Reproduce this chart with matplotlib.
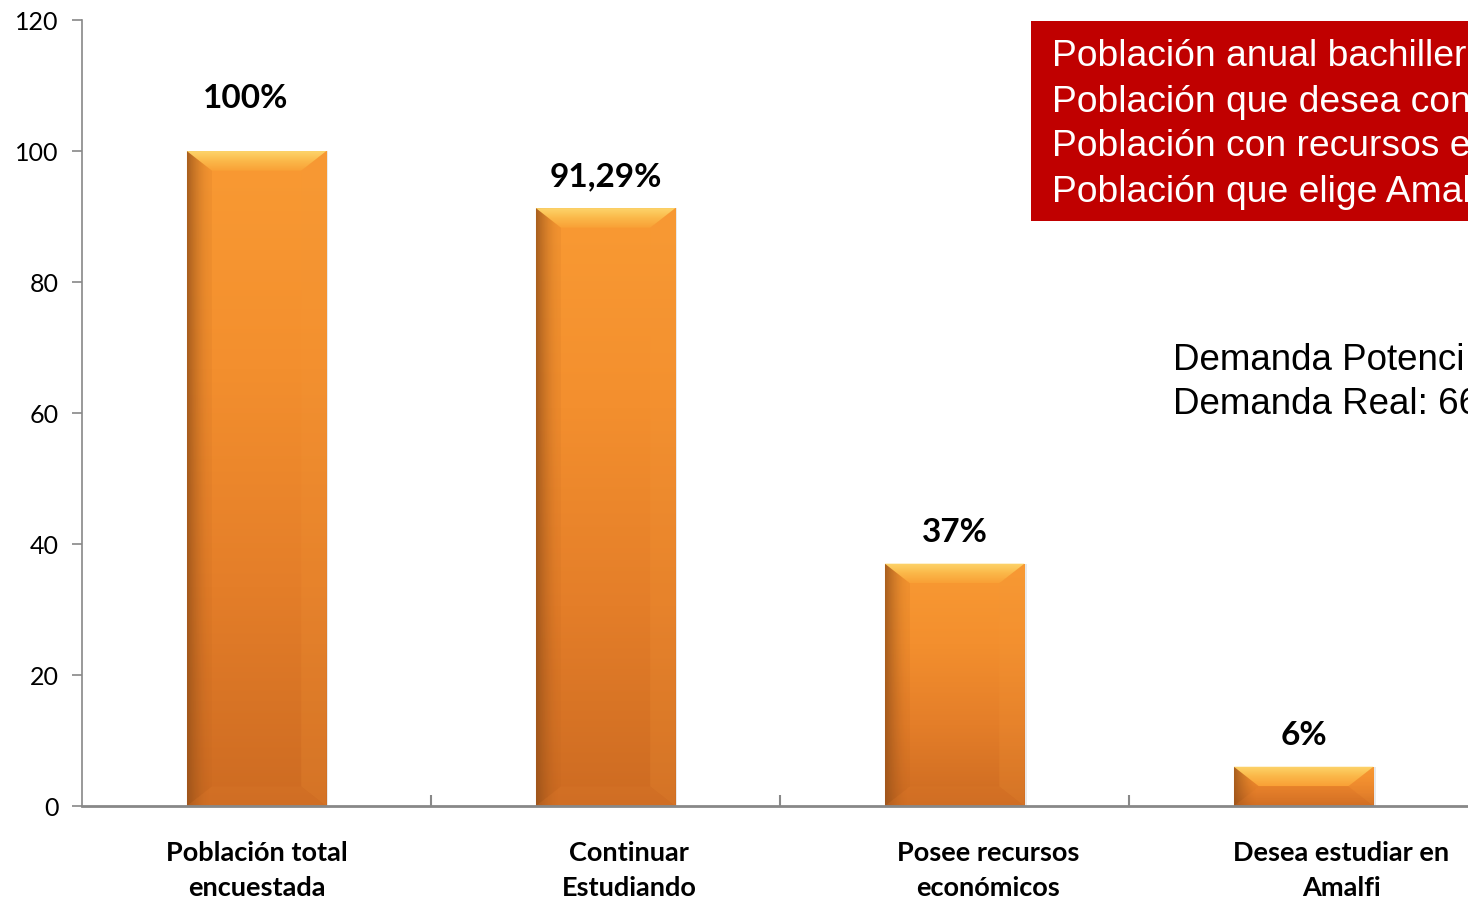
import numpy as np
import matplotlib.pyplot as plt
from matplotlib.colors import LinearSegmentedColormap
from matplotlib.patches import Polygon, Rectangle

# datos del grafico
categorias = ["Población total\nencuestada", "Continuar\nEstudiando",
              "Posee recursos\neconómicos", "Desea estudiar en\nAmalfi"]
valores = [100, 91.29, 37, 6]
etiquetas = ["100%", "91,29%", "37%", "6%"]
yticks = [0, 20, 40, 60, 80, 100, 120]

# textos cortados por el borde derecho, como en la imagen original
cuadro_lineas = ["Población anual bachillere",
                 "Población que desea con",
                 "Población con recursos e",
                 "Población que elige Amal"]
demanda_lineas = ["Demanda Potenci", "Demanda Real: 66"]

fig = plt.figure(figsize=(14.68, 8.98), dpi=100)
ax = fig.add_axes([0.0559, 0.1024, 0.951, 0.8753])

x = np.arange(len(valores))
bars = ax.bar(x, valores, width=0.4, color="#F08A2C", zorder=2)

cuerpo = LinearSegmentedColormap.from_list("cuerpo", ["#CD6B22", "#E47E29", "#F38F2E", "#F99A33"])
tapa = LinearSegmentedColormap.from_list("tapa", ["#F9A036", "#FBB849", "#FDD56B"])
grad = np.linspace(0, 1, 256).reshape(-1, 1)

# sombra lateral izquierda (gradiente horizontal)
n = 64
sombra = np.zeros((1, n, 4))
sombra[..., 0], sombra[..., 1], sombra[..., 2] = 0.55, 0.30, 0.10
sombra[0, :, 3] = np.clip(1 - np.linspace(0, 1, n), 0, 1) ** 1.6 * 0.75

# efecto bisel sobre cada barra
for b in bars:
    bx, bw, bh = b.get_x(), b.get_width(), b.get_height()
    dy = min(3.0, bh / 2)
    dx = 0.072 * dy / 3.0
    im = ax.imshow(grad, cmap=cuerpo, origin="lower", aspect="auto",
                   extent=[bx, bx + bw, 0, bh], zorder=2.1)
    im.set_clip_path(b)
    sh = ax.imshow(sombra, aspect="auto", extent=[bx, bx + bw * 0.16, 0, bh],
                   zorder=2.15, interpolation="bilinear")
    sh.set_clip_path(b)
    top = Polygon([(bx, bh), (bx + bw, bh), (bx + bw - dx, bh - dy), (bx + dx, bh - dy)],
                  closed=True, facecolor="none", edgecolor="none")
    ax.add_patch(top)
    im2 = ax.imshow(grad, cmap=tapa, origin="lower", aspect="auto",
                    extent=[bx, bx + bw, bh - dy, bh], zorder=2.2)
    im2.set_clip_path(top)
    left = Polygon([(bx, 0), (bx, bh), (bx + dx, bh - dy), (bx + dx, dy)],
                   closed=True, facecolor="#B8601C", edgecolor="none", alpha=0.12, zorder=2.2)
    ax.add_patch(left)
    right = Polygon([(bx + bw, 0), (bx + bw, bh), (bx + bw - dx, bh - dy), (bx + bw - dx, dy)],
                    closed=True, facecolor="#F49838", edgecolor="none", alpha=0.2, zorder=2.2)
    ax.add_patch(right)
    bottom = Polygon([(bx, 0), (bx + bw, 0), (bx + bw - dx, dy), (bx + dx, dy)],
                     closed=True, facecolor="#DC782A", edgecolor="none", alpha=0.25, zorder=2.2)
    ax.add_patch(bottom)
    ax.add_patch(Rectangle((bx + bw, 0), bw * 0.015, bh, facecolor="#AAAAAA",
                           edgecolor="none", alpha=0.25, zorder=1.9))

ax.set_xlim(-0.5, len(valores) - 0.5)
ax.set_ylim(0, 120)

# etiquetas de valor
for i, (v, t) in enumerate(zip(valores, etiquetas)):
    off = 40 if i == 0 else 25
    ax.annotate(t, (i, v), xytext=(-8 if i == 0 else 0, off - 2.5), textcoords="offset points",
                ha="center", va="center", fontsize=24, fontweight="bold",
                family="Lato", color="black", zorder=5)

# etiquetas de categoria
shift = [0, 17, 24, 27]
for i, c in enumerate(categorias):
    ax.annotate(c, (i, 0), xytext=(shift[i], -25), textcoords="offset points",
                ha="center", va="top", fontsize=19.5, fontweight="bold",
                family="Lato", linespacing=1.55, annotation_clip=False)

ax.set_xticks(x)
ax.set_xticklabels([])
ax.set_xticks(np.arange(0.5, len(valores) - 0.5), minor=True)
ax.tick_params(axis="x", which="major", direction="in", length=5, color="#888888", width=1.2)
ax.tick_params(axis="x", which="minor", direction="in", length=8, color="#888888", width=1.5)
ax.set_yticks(yticks)
ax.tick_params(axis="y", direction="out", length=7, color="#888888", width=1.2, pad=10,
               labelsize=18)
for lab in ax.get_yticklabels():
    lab.set_family("Lato")

for s in ["top", "right"]:
    ax.spines[s].set_visible(False)
ax.spines["left"].set_color("#888888")
ax.spines["left"].set_linewidth(1.2)
ax.spines["bottom"].set_color("#888888")
ax.spines["bottom"].set_linewidth(2)
ax.spines["bottom"].set_zorder(3)

# cuadro rojo
fig.patches.append(Rectangle((0.7023, 0.7539), 0.4, 0.2227, transform=fig.transFigure,
                             facecolor="#C00000", edgecolor="none", zorder=3))
for k, ln in enumerate(cuadro_lineas):
    fig.text(0.7166, (898 - 57 - 45 * k) / 898, ln, color="white", fontsize=26.8,
             family="Liberation Sans", va="center", ha="left", zorder=4)

for k, ln in enumerate(demanda_lineas):
    fig.text(0.799, (898 - 360 - 45 * k) / 898, ln, color="black", fontsize=26.5,
             family="Liberation Sans", va="center", ha="left")

fig.savefig("out.png", dpi=100)
